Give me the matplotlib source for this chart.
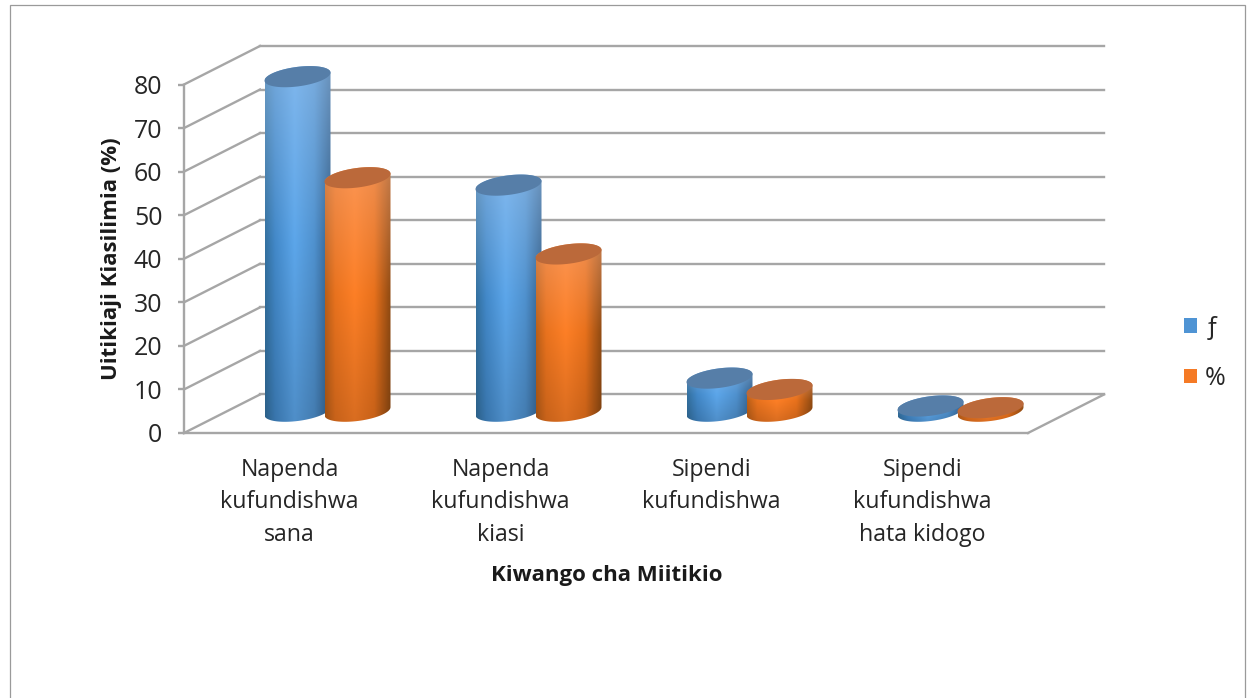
import numpy as np
import matplotlib
matplotlib.use("Agg")
import matplotlib.pyplot as plt
from matplotlib.colors import to_rgb
from matplotlib.patches import Patch, Polygon, Rectangle

categories = ["Napenda\nkufundishwa\nsana", "Napenda\nkufundishwa\nkiasi",
              "Sipendi\nkufundishwa", "Sipendi\nkufundishwa\nhata kidogo"]
f_values = [76.8, 51.9, 7.6, 1.2]
pct_values = [53.6, 36.1, 5.0, 0.8]
series_names = ["ƒ", "%"]
y_ticks = list(range(0, 90, 10))

FONT = "Open Sans"
GRID = "#a6a6a6"
# oblique depth of the floor, in data units
DX = 76 / 211
DY = 38.5 / 4.356
BASE = 5.0
RX = 33 / 211
RY = 9.8 / 4.356
SHEAR = 4 / 4.356
OFFSET = 30 / 211

plt.rcParams["font.family"] = [FONT, "DejaVu Sans"]


def ellipse(cx, val, t):
    return cx + RX * np.cos(t), val + BASE + SHEAR * np.cos(t) + RY * np.sin(t)


def shade(stops_x, stops_c, top_tint):
    # horizontal shading of a cylinder, washed out at the top, darker at the bottom
    xs = np.linspace(0, 1, 80)
    rgb = np.array([np.interp(xs, stops_x, [to_rgb(c)[i] for c in stops_c]) for i in range(3)]).T
    ys = np.linspace(0, 1, 60)[:, None, None]
    tint = np.array(to_rgb(top_tint))
    wash = 0.5 * np.clip(1 - ys / 0.5, 0, 1)
    dark = 1 - 0.14 * np.clip((ys - 0.5) / 0.5, 0, 1)
    return np.clip((rgb[None, :, :] * (1 - wash) + tint * wash) * dark, 0, 1)


def cylinder(ax, fig, cx, val, stops, tint, cap):
    lo = np.linspace(np.pi, 2 * np.pi, 60)
    up = np.linspace(0, np.pi, 60)
    bx, by = ellipse(cx, 0, lo)
    tx, ty = ellipse(cx, val, up)
    body = Polygon(np.column_stack([np.r_[bx, tx], np.r_[by, ty]]), closed=True,
                   facecolor="none", edgecolor="none", transform=ax.transData)
    ax.add_patch(body)
    body.set_clip_on(False)
    img = shade(stops[0], stops[1], tint)
    im = ax.imshow(img, extent=[bx.min(), bx.max(), by.min(), ty.max()], origin="upper",
                   aspect="auto", interpolation="bilinear", zorder=3)
    im.set_clip_path(body)
    im.set_clip_box(fig.bbox)
    t = np.linspace(0, 2 * np.pi, 120)
    ex, ey = ellipse(cx, val, t)
    ax.fill(ex, ey, color=cap, zorder=3, clip_on=False, lw=0)


fig = plt.figure(figsize=(12.47, 6.98), dpi=100)
ax = fig.add_axes([184 / 1247, (698 - 433) / 698, 844 / 1247, 348.5 / 698])

# chart frame
fig.add_artist(Rectangle((10 / 1247, -0.01), 1235 / 1247, (693 / 698) + 0.01, transform=fig.transFigure,
                         facecolor="none", edgecolor="#9a9a9a", lw=0.9))

# walls and floor
for v in y_ticks:
    ax.plot([0, DX], [v, v + DY], color=GRID, lw=1.7, clip_on=False, zorder=1)
    ax.plot([DX, 4 + DX], [v + DY, v + DY], color=GRID, lw=1.7, clip_on=False, zorder=1)
ax.plot([4, 4 + DX], [0, DY], color=GRID, lw=1.7, clip_on=False, zorder=1)

blue = ([0, 0.15, 0.45, 0.75, 1], ["#33709f", "#4288c8", "#5ca6ea", "#4f91ce", "#33608c"])
orange = ([0, 0.15, 0.45, 0.75, 1], ["#bb5f18", "#e8721e", "#fd7f26", "#e8711c", "#8f4a12"])

for i in range(len(categories)):
    cx = i + 0.5 + DX * 0.5
    cylinder(ax, fig, cx - OFFSET, f_values[i], blue, "#a3c7ee", "#567ea8")
    cylinder(ax, fig, cx + OFFSET, pct_values[i], orange, "#f8ab80", "#bb693a")

ax.set_xlim(0, 4)
ax.set_ylim(0, 80)
ax.set_xticks([0.5, 1.5, 2.5, 3.5], categories)
ax.set_yticks(y_ticks)
ax.tick_params(axis="x", length=0, pad=18, labelsize=16.7, labelcolor="#262626")
ax.tick_params(axis="y", length=4.5, width=1.7, color=GRID, pad=11, labelsize=18, labelcolor="#262626")
for lab in ax.get_xticklabels():
    lab.set_linespacing(1.47)
ax.spines["top"].set_visible(False)
ax.spines["right"].set_visible(False)
ax.spines["left"].set_color(GRID)
ax.spines["bottom"].set_color(GRID)
ax.spines["left"].set_linewidth(1.7)
ax.spines["bottom"].set_linewidth(1.7)
ax.patch.set_visible(False)

ax.set_xlabel("Kiwango cha Miitikio", fontsize=16, fontweight="bold", color="#1a1a1a", va="center")
ax.xaxis.set_label_coords((607 - 184) / 844, (433 - 575) / 348.5)
ax.set_ylabel("Uitikiaji Kiasilimia (%)", fontsize=16, fontweight="bold", color="#1a1a1a", va="center")
ax.yaxis.set_label_coords((112 - 184) / 844, (433 - 259) / 348.5)

handles = [Patch(facecolor="#4f94d4", edgecolor="none", label=series_names[0]),
           Patch(facecolor="#f57a25", edgecolor="none", label=series_names[1])]
ax.legend(handles=handles, loc="center left", bbox_to_anchor=((1161.5 - 184) / 844, (433 - 353) / 348.5),
          frameon=False, fontsize=18, handlelength=0.52, handleheight=0.52, handletextpad=0.32,
          labelspacing=1.02, labelcolor="#262626")

fig.savefig("out.png", dpi=100)
